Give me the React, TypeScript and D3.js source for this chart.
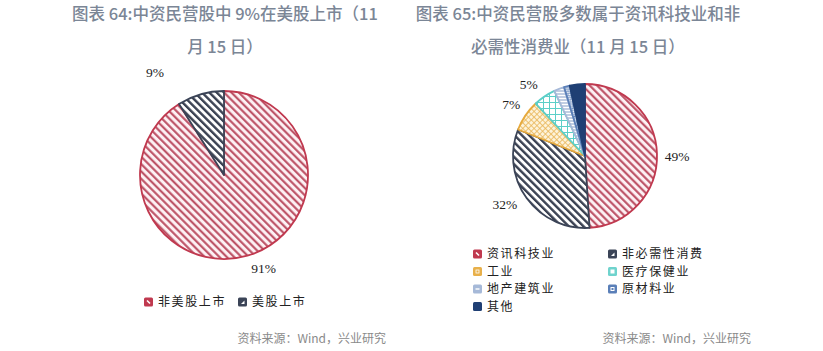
import React from "react";
import * as d3 from "d3";

// left chart: 中资民营股 listed in the US
const leftCategories = ["非美股上市", "美股上市"];
const leftValues = [91, 9];
const leftLabels = ["91%", "9%"];

// right chart: sector breakdown
const rightCategories = [
  "资讯科技业",
  "非必需性消费",
  "工业",
  "医疗保健业",
  "地产建筑业",
  "原材料业",
  "其他",
];
const rightValues = [49, 32, 7, 5, 2.3, 1.3, 3.4];
const rightLabels = ["49%", "32%", "7%", "5%", "", "", ""];

// label placement (angle in degrees clockwise from top, radius factor)
const leftLabelPolar: [number, number][] = [
  [157, 1.21],
  [-34, 1.47],
];
const rightLabelPolar: [number, number][] = [
  [90, 1.28],
  [239, 1.3],
  [305, 1.25],
  [322, 1.27],
  [0, 0],
  [0, 0],
  [0, 0],
];

const W = 823;
const H = 351;

const titleColor = "#7b8696";
const titleFont = "'Noto Sans CJK SC', 'Noto Sans', sans-serif";
const legendFont = "'Noto Sans CJK SC', sans-serif";
const numFont = "'Liberation Serif', 'DejaVu Serif', serif";

const leftFills = ["url(#pRed)", "url(#pNavy)"];
const leftStrokes = ["#c0394f", "#3b4457"];
const rightFills = [
  "url(#pRed)",
  "url(#pNavy)",
  "url(#pYellow)",
  "url(#pCyan)",
  "url(#pLight)",
  "url(#pBlue)",
  "#1f3f74",
];
const rightStrokes = [
  "#c0394f",
  "#3b4457",
  "#e6a93c",
  "#5ccfc8",
  "#a6b9d8",
  "#5a7fb8",
  "#1f3f74",
];
const rightIconColors = [
  "#c0394f",
  "#3b4457",
  "#e8b04a",
  "#6fd3cd",
  "#a6b9d8",
  "#5a7fb8",
  "#1f3f74",
];

interface PieProps {
  cx: number;
  cy: number;
  r: number;
  values: number[];
  labels: string[];
  labelPolar: [number, number][];
  fills: string[];
  strokes: string[];
}

const Pie: React.FC<PieProps> = ({ cx, cy, r, values, labels, labelPolar, fills, strokes }) => {
  const pie = d3.pie<number>().sort(null).value((d) => d);
  const arcs = pie(values);
  const arc = d3.arc<d3.PieArcDatum<number>>().innerRadius(0).outerRadius(r);
  return (
    <g transform={`translate(${cx},${cy})`}>
      {arcs.map((a, i) => (
        <path
          key={i}
          d={arc(a) || ""}
          fill={fills[i]}
          stroke={strokes[i]}
          strokeWidth={1.8}
          strokeLinejoin="round"
        />
      ))}
      {arcs.map((a, i) => {
        if (!labels[i]) return null;
        const [deg, f] = labelPolar[i];
        const ang = (deg * Math.PI) / 180;
        const lr = r * f;
        const p = d3
          .arc<any>()
          .innerRadius(lr)
          .outerRadius(lr)
          .startAngle(ang)
          .endAngle(ang)
          .centroid({} as any);
        return (
          <text
            key={"l" + i}
            x={p[0]}
            y={p[1]}
            dy="0.35em"
            textAnchor="middle"
            fontFamily={numFont}
            fontSize={13.5}
            fill="#222"
          >
            {labels[i]}
          </text>
        );
      })}
    </g>
  );
};

const LegendIcon: React.FC<{ x: number; y: number; color: string; kind: number }> = ({
  x,
  y,
  color,
  kind,
}) => {
  const s = 9;
  let glyph: React.ReactNode = null;
  if (kind === 0) glyph = <path d={`M${x + 3},${y + 3} L${x + 6},${y + 6}`} stroke="#fff" strokeWidth={1.6} />;
  if (kind === 1) glyph = <path d={`M${x + 3},${y + 6.5} L${x + 6.5},${y + 3} L${x + 6.5},${y + 6.5}Z`} fill="#fff" />;
  if (kind === 2) glyph = <rect x={x + 3} y={y + 3} width={3} height={3} fill="none" stroke="#fff" strokeWidth={0.8} />;
  if (kind === 3) glyph = <rect x={x + 2.5} y={y + 2.5} width={4} height={4} fill="#fff" />;
  if (kind === 4) glyph = <path d={`M${x + 2.5},${y + 4.5} L${x + 6.5},${y + 4.5}`} stroke="#fff" strokeWidth={1.4} />;
  if (kind === 5) glyph = <rect x={x + 3} y={y + 3} width={3} height={3} fill="none" stroke="#fff" strokeWidth={1} />;
  return (
    <g>
      <rect x={x} y={y} width={s} height={s} rx={1.5} fill={color} />
      {glyph}
    </g>
  );
};

const App: React.FC = () => {
  // legend layout
  const rightRow = d3.scaleLinear().domain([0, 1]).range([254, 271.5]);
  const rightCol = [473, 608];
  const leftLegendX = [144, 238];

  return (
    <svg
      width={W}
      height={H}
      style={{ position: "absolute", left: 0, top: 0, background: "#fff" }}
    >
      <defs>
        <pattern id="pRed" width={5.2} height={5.2} patternUnits="userSpaceOnUse" patternTransform="rotate(-45)">
          <rect width={5.2} height={5.2} fill="#fdf1f4" />
          <line x1={1.2} y1={0} x2={1.2} y2={5.2} stroke="#b8475c" strokeWidth={2} />
        </pattern>
        <pattern id="pNavy" width={5.2} height={5.2} patternUnits="userSpaceOnUse" patternTransform="rotate(-45)">
          <rect width={5.2} height={5.2} fill="#fff" />
          <line x1={1.2} y1={0} x2={1.2} y2={5.2} stroke="#3a4152" strokeWidth={2.4} />
        </pattern>
        <pattern id="pYellow" width={4} height={4} patternUnits="userSpaceOnUse" patternTransform="rotate(45)">
          <rect width={4} height={4} fill="#fdf3da" />
          <path d="M0,0.5 H4 M0.5,0 V4" stroke="#e9b559" strokeWidth={0.8} />
        </pattern>
        <pattern id="pCyan" width={6} height={6} patternUnits="userSpaceOnUse">
          <rect width={6} height={6} fill="#fff" />
          <path d="M0,0.5 H6 M0.5,0 V6" stroke="#5ccfc8" strokeWidth={1} />
        </pattern>
        <pattern id="pLight" width={3} height={3} patternUnits="userSpaceOnUse">
          <rect width={3} height={3} fill="#fff" />
          <path d="M0,1 H3" stroke="#a6b9d8" strokeWidth={1.4} />
        </pattern>
        <pattern id="pBlue" width={3} height={3} patternUnits="userSpaceOnUse" patternTransform="rotate(45)">
          <rect width={3} height={3} fill="#fff" />
          <rect width={1.5} height={1.5} fill="#5a7fb8" />
          <rect x={1.5} y={1.5} width={1.5} height={1.5} fill="#5a7fb8" />
        </pattern>
      </defs>

      {/* titles */}
      <g fontFamily={titleFont} fontWeight={500} fontSize={16.5} fill={titleColor} textAnchor="middle">
        <text x={225} y={20}>图表 64:中资民营股中 9%在美股上市（11</text>
        <text x={225} y={53}>月 15 日）</text>
        <text x={578} y={20}>图表 65:中资民营股多数属于资讯科技业和非</text>
        <text x={578} y={53}>必需性消费业（11 月 15 日）</text>
      </g>

      <Pie
        cx={224}
        cy={175}
        r={84}
        values={leftValues}
        labels={leftLabels}
        labelPolar={leftLabelPolar}
        fills={leftFills}
        strokes={leftStrokes}
      />
      <Pie
        cx={585}
        cy={156}
        r={72}
        values={rightValues}
        labels={rightLabels}
        labelPolar={rightLabelPolar}
        fills={rightFills}
        strokes={rightStrokes}
      />

      {/* left legend */}
      {leftCategories.map((c, i) => (
        <g key={c}>
          <LegendIcon x={leftLegendX[i]} y={297.5} color={leftStrokes[i]} kind={i} />
          <text
            x={leftLegendX[i] + 14}
            y={302}
            dy="0.35em"
            fontFamily={legendFont}
            fontSize={12}
            letterSpacing={1.6}
            fill="#222"
          >
            {c}
          </text>
        </g>
      ))}

      {/* right legend */}
      {rightCategories.map((c, i) => {
        const col = i % 2;
        const row = Math.floor(i / 2);
        const x = rightCol[col];
        const y = rightRow(row);
        return (
          <g key={c}>
            <LegendIcon x={x} y={y - 4.5} color={rightIconColors[i]} kind={i} />
            <text
              x={x + 14}
              y={y}
              dy="0.35em"
              fontFamily={legendFont}
              fontSize={12}
              letterSpacing={1.6}
              fill="#222"
            >
              {c}
            </text>
          </g>
        );
      })}

      {/* sources */}
      <g fontFamily={titleFont} fontSize={12} fill="#8a8a8a" textAnchor="end">
        <text x={386} y={343}>资料来源：Wind，兴业研究</text>
        <text x={751} y={343}>资料来源：Wind，兴业研究</text>
      </g>
    </svg>
  );
};

export default App;
